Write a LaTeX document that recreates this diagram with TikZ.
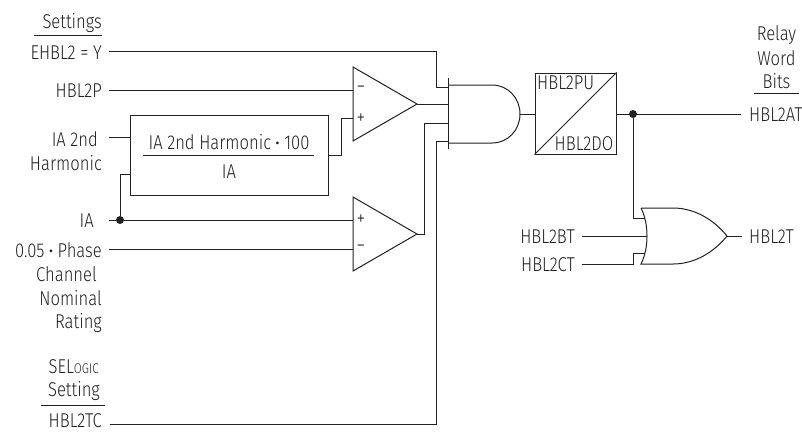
\documentclass[tikz,border=0pt]{standalone}
\usepackage{fontspec}
\setmainfont[FakeStretch=0.83]{Fira Sans Light}
\newfontfamily\bulletfont{Fira Sans}
\definecolor{ink}{HTML}{222121}
\newcommand{\mydot}{\raisebox{1.5pt}{\bulletfont\fontsize{12}{12}\selectfont •}}
\tikzset{
  wire/.style={draw=ink,line width=1pt,line join=miter},
  lab/.style={inner sep=0pt,text=ink,font=\fontsize{20}{22}\selectfont},
  labr/.style={lab,anchor=east},
  labl/.style={lab,anchor=west},
  labc/.style={lab,anchor=center},
  jdot/.style={circle,fill=ink,inner sep=0pt,minimum size=8pt},
  sign/.style={inner sep=0pt,text=ink,font=\fontsize{21}{21}\selectfont},
}
\begin{document}
\begin{tikzpicture}[x=1pt,y=-1pt]
\useasboundingbox (0,0) rectangle (802,432);
% labels (left)
\node[labr] (settings) at (102,23) {Settings};
\node[labr] (ehbl) at (102,53) {EHBL2 = Y};
\node[labr] (hblp) at (102,91) {HBL2P};
\node[labr] (ia2a) at (98,139) {IA 2nd};
\node[labr] (ia2b) at (102,163) {Harmonic};
\node[labr] (ia) at (94,221) {IA};
\node[labr] (ph1) at (102,250) {0.05 \mydot{} Phase};
\node[labr] (ph2) at (97,274) {Channel};
\node[labr] (ph3) at (102,298) {Nominal};
\node[labr] (ph4) at (102,323) {Rating};
\node[labr] (sel) at (99,367) {SEL\fontsize{14}{14}\selectfont OGIC};
\node[labr] (setg) at (100,391) {Setting};
\node[labr] (tc) at (102,421) {HBL2TC};
\node[labc] (relay) at (776.5,35) {Relay};
\node[labc] (word) at (776.5,58) {Word};
\node[labc] (bits) at (776.5,81) {Bits};
\node[labl] (at) at (749,115) {HBL2AT};
\node[labl] (tt) at (749,237) {HBL2T};
\node[labr] (bt) at (575,237) {HBL2BT};
\node[labr] (ct) at (575,265) {HBL2CT};
% rules under headings
\draw[wire] (34,35) -- (102,35);
\draw[wire] (41,405) -- (105,405);
\draw[wire] (754,93) -- (799,93);
% free ends
\coordinate (ehbls) at (109,51);
\coordinate (hblps) at (109,90);
\coordinate (ia2s) at (109,137);
\coordinate (ias) at (109,220);
\coordinate (phs) at (109,249);
\coordinate (tcs) at (110,424);
\coordinate (ate) at (741,114);
\coordinate (tte) at (742,236);
\coordinate (bts) at (582,236);
\coordinate (cts) at (582,264);
% fraction box
\node[wire,draw,minimum width=198pt,minimum height=80pt,inner sep=0pt] (fbox) at (229,155) {};
\node[labc] (fnum) at (229,142) {IA 2nd Harmonic \mydot{} 100};
\node[labc] (fden) at (229,172) {IA};
\draw[wire] (143,155) -- (314,155);
% comparators
\coordinate (c1a) at (353,67); \coordinate (c1b) at (353,141); \coordinate (c1t) at (417,104);
\coordinate (c2a) at (353,197); \coordinate (c2b) at (353,271); \coordinate (c2t) at (417,234);
\draw[wire] (c1a) -- (c1t) -- (c1b) -- cycle;
\draw[wire] (c2a) -- (c2t) -- (c2b) -- cycle;
\node[sign] (c1m) at (361,90) {−};
\node[sign] (c1p) at (361,119) {+};
\node[sign] (c2p) at (361,220) {+};
\node[sign] (c2m) at (361,249) {−};
% AND gate
\coordinate (anda) at (448,78); \coordinate (andb) at (448,149);
\draw[wire] (anda) -- (andb);
\draw[wire] (448,85) -- (492,85) .. controls (508,85) and (520,98) .. (520,114) .. controls (520,130) and (508,143) .. (492,143) -- (448,143);
\coordinate (ando) at (520,114);
\coordinate (and1) at (448,87); \coordinate (and2) at (448,104);
\coordinate (and3) at (448,123); \coordinate (and4) at (448,141);
% timer
\node[wire,draw,minimum width=81pt,minimum height=81pt,inner sep=0pt] (timer) at (575.5,113.5) {};
\draw[wire] (timer.south west) -- (timer.north east);
\node[labl,anchor=north west] (pu) at (537,76) {HBL2PU};
\node[labl,anchor=south east] (dopu) at (613.5,151) {HBL2DO};
% OR gate
\coordinate (ora) at (641,208); \coordinate (orb) at (641,264); \coordinate (ort) at (727,236);
\draw[wire] (ora) .. controls (645,216) and (647,226) .. (647,236) .. controls (647,246) and (645,256) .. (orb)
  -- (673,264) .. controls (695,264) and (714,252) .. (ort) .. controls (714,220) and (695,208) .. (673,208) -- (ora);
% junctions
\node[jdot] (j1) at (120,220) {};
\node[jdot] (j2) at (633,114) {};
% wires
\draw[wire] (ehbls) -- (436,51) |- (and1);
\draw[wire] (hblps) -- (353,90);
\draw[wire] (ia2s) -- (fbox.west |- ia2s);
\draw[wire] (j1) |- (130,174);
\draw[wire] (ias) -- (353,220);
\draw[wire] (phs) -- (353,249);
\draw[wire] (fbox.east) -- (341,155) |- (353,118);
\draw[wire] (c1t) -- (and2);
\draw[wire] (c2t) -- (424,234) |- (and3);
\draw[wire] (tcs) -- (436,424) |- (and4);
\draw[wire] (ando) -- (timer.west |- ando);
\draw[wire] (timer.east |- ando) -- (ate);
\draw[wire] (j2) |- (645,218);
\draw[wire] (bts) -- (647,236);
\draw[wire] (cts) -- (633,264) |- (645,253);
\draw[wire] (ort) -- (tte);
\end{tikzpicture}
\end{document}
